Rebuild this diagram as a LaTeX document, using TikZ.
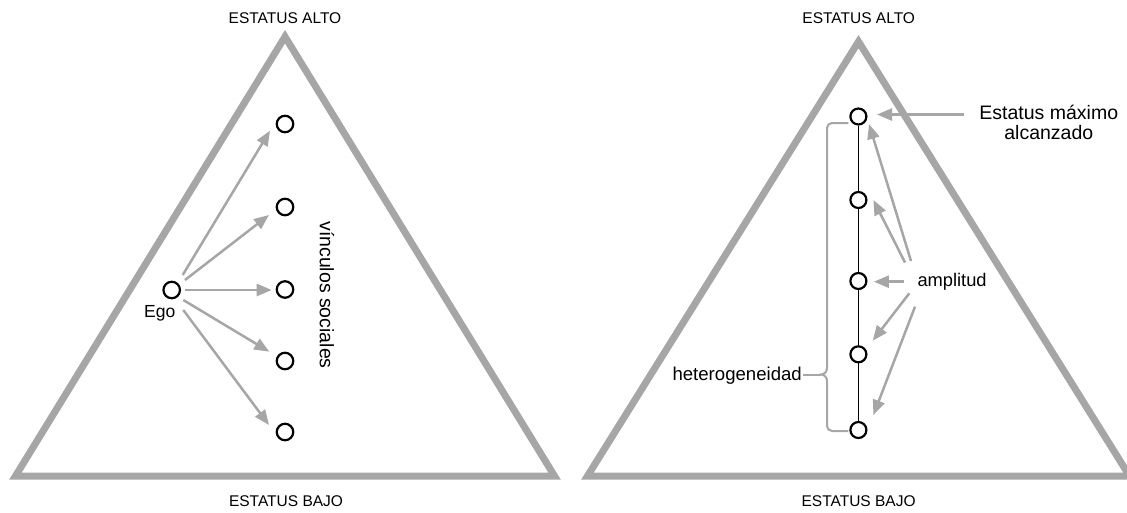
\documentclass[tikz,border=0pt]{standalone}
\usepackage{fontspec}
\setmainfont{Liberation Sans}
\usetikzlibrary{arrows.meta}
\definecolor{tgray}{HTML}{A6A6A6}
\newcommand{\fsz}[1]{\fontsize{#1pt}{#1pt}\selectfont}
\begin{document}
\begin{tikzpicture}[x=1pt,y=-1pt,
  tri/.style={draw=tgray, line width=7pt, line join=miter},
  dotnode/.style={circle, draw=black, line width=2.2pt, minimum size=16.5pt, inner sep=0pt},
  arr/.style={draw=tgray, line width=2.5pt, -{Triangle[length=15pt,width=12pt]}},
  brc/.style={draw=tgray, line width=2pt},
  lbl/.style={inner sep=0pt, text=black}]
\useasboundingbox (0,0) rectangle (1127,512);
\clip (0,0) rectangle (1127,512);

% triangles
\draw[tri] (15.5,476) -- (285,36.7) -- (554.5,476) -- cycle;
\draw[tri] (587.5,476) -- (858.5,41.6) -- (1129.5,476) -- cycle;

% labels of status
\node[lbl, font=\fsz{15.5}, anchor=base] (altoL) at (285,23.3) {ESTATUS ALTO};
\node[lbl, font=\fsz{15.5}, anchor=base] (bajoL) at (286,506) {ESTATUS BAJO};
\node[lbl, font=\fsz{15.5}, anchor=base] (altoR) at (858.7,23.3) {ESTATUS ALTO};
\node[lbl, font=\fsz{15.5}, anchor=base] (bajoR) at (858.6,506.5) {ESTATUS BAJO};

% left diagram
\node[dotnode] (ego) at (171.7,290) {};
\node[dotnode] (l1) at (285,124) {};
\node[dotnode] (l2) at (285,207) {};
\node[dotnode] (l3) at (285,289.5) {};
\node[dotnode] (l4) at (285,361) {};
\node[dotnode] (l5) at (285,432) {};
\node[lbl, font=\fsz{17.5}, anchor=base west] (egolbl) at (144,317) {Ego};
\node[lbl, font=\fsz{19.5}, rotate=-90] (vinc) at (327,295) {vínculos sociales};

\draw[arr] ([shift={(11,-15)}]ego.center) -- ([shift={(-15,6.7)}]l1.center);
\draw[arr] ([shift={(13.3,-10)}]ego.center) -- ([shift={(-16,8)}]l2.center);
\draw[arr] ([shift={(13.3,0)}]ego.center) -- ([shift={(-13.3,0.5)}]l3.center);
\draw[arr] ([shift={(11.6,10)}]ego.center) -- ([shift={(-15.7,-9.3)}]l4.center);
\draw[arr] ([shift={(11.6,20)}]ego.center) -- ([shift={(-16,-7)}]l5.center);

% right diagram
\node[dotnode, minimum size=16pt] (r1) at (858.4,116.5) {};
\node[dotnode, minimum size=16pt] (r2) at (858.4,200) {};
\node[dotnode, minimum size=16pt] (r3) at (858.4,281) {};
\node[dotnode, minimum size=16pt] (r4) at (858.4,354.3) {};
\node[dotnode, minimum size=16pt] (r5) at (858.4,430) {};
\draw[black, line width=1.3pt] (r1) -- (r2);
\draw[black, line width=1.3pt] (r2) -- (r3);
\draw[black, line width=1.3pt] (r3) -- (r4);
\draw[black, line width=1.3pt] (r4) -- (r5);

\node[lbl, font=\fsz{19.5}, align=center] (emax) at (1048.8,122) {Estatus máximo\\[0.5pt]alcanzado};
\node[lbl, font=\fsz{18.3}, anchor=base west] (ampl) at (917.3,286.7) {amplitud};
\node[lbl, font=\fsz{18.6}, anchor=base east] (het) at (802,380.5) {heterogeneidad};

\coordinate (emstart) at (964,114.5);
\draw[arr] (emstart) -- ([shift={(18.6,-2)}]r1.center);
\draw[arr] ([shift={(-6.3,-25.7)}]ampl.base west) -- ([shift={(10.6,7.5)}]r1.center);
\draw[arr] ([shift={(-12.3,-24.2)}]ampl.base west) -- ([shift={(15,0)}]r2.center);
\draw[arr] ([shift={(-13.3,-5)}]ampl.base west) -- ([shift={(15.5,0.7)}]r3.center);
\draw[arr] ([shift={(-8,6.6)}]ampl.base west) -- ([shift={(14.3,-13.6)}]r4.center);
\draw[arr] ([shift={(-2.3,20)}]ampl.base west) -- ([shift={(15,-15)}]r5.center);

% brace
\coordinate (nub) at (821,374.5);
\draw[brc] ([shift={(-10,6.5)}]r1.center) -- (832,123) to[out=180,in=90] (827,128) -- (827,368)
   to[out=270,in=0] (nub) to[out=0,in=90] (827,381) -- (827,426)
   to[out=270,in=180] (832,431) -- ([shift={(-10,1)}]r5.center);
\draw[brc] (nub) -- ([xshift=1pt]het.east |- nub);
\end{tikzpicture}
\end{document}
